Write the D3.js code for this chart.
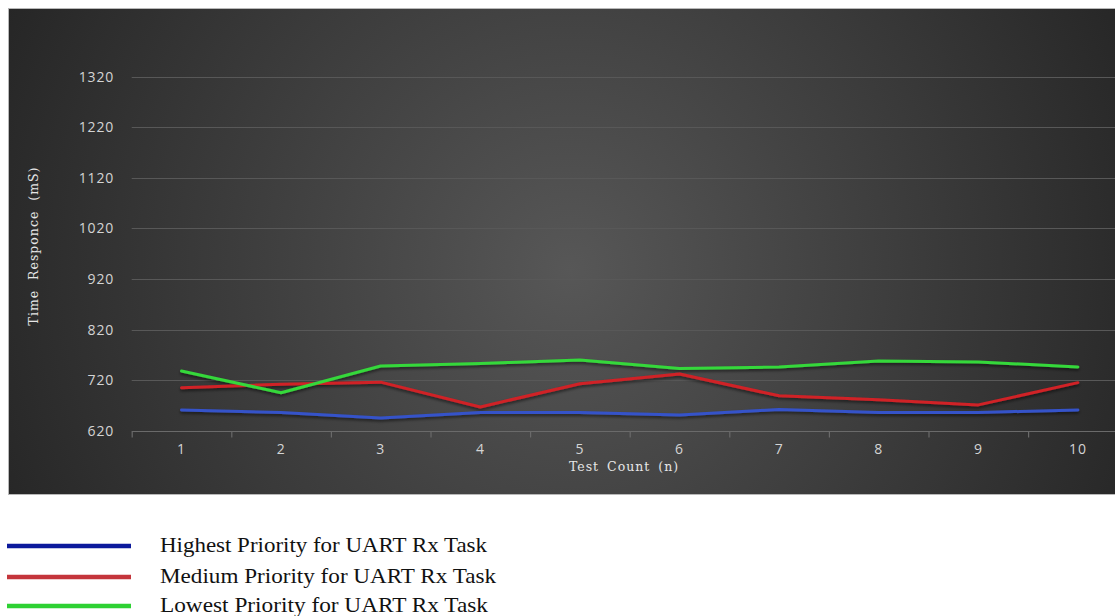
<!DOCTYPE html>
<html>
<head>
<meta charset="utf-8">
<script src="https://cdn.jsdelivr.net/npm/d3@7"></script>
<style>
  html, body { margin: 0; padding: 0; background: #ffffff; }
  svg { display: block; }
</style>
</head>
<body>
<svg id="chart" width="1115" height="616"></svg>
<script>
// Test runs (x categories)
const testCounts = [1, 2, 3, 4, 5, 6, 7, 8, 9, 10];

// Response time in ms for each UART Rx task priority
const highestPriority = [661, 656, 645, 656, 656, 651, 662, 656, 656, 661];
const mediumPriority  = [705, 712, 716, 667, 713, 732, 689, 681, 671, 715];
const lowestPriority  = [738, 695, 748, 753, 760, 743, 746, 758, 756, 746];

const yTicks = [620, 720, 820, 920, 1020, 1120, 1220, 1320];

const seriesNames = [
  "Highest Priority for UART Rx Task",
  "Medium Priority for UART Rx Task",
  "Lowest Priority for UART Rx Task"
];

const series = [
  { name: seriesNames[0], values: highestPriority, line: "#3552c9", key: "#0c1a9c", textLen: 327 },
  { name: seriesNames[1], values: mediumPriority,  line: "#d02127", key: "#c4353b", textLen: 336 },
  { name: seriesNames[2], values: lowestPriority,  line: "#35d83a", key: "#2ed133", textLen: 328 }
];

const svg = d3.select("#chart");

// Dark panel with a soft radial light in the middle
const defs = svg.append("defs");
const grad = defs.append("radialGradient")
  .attr("id", "panelGlow")
  .attr("gradientUnits", "userSpaceOnUse")
  .attr("cx", 570).attr("cy", 270).attr("r", 620);
grad.append("stop").attr("offset", "0%").attr("stop-color", "#575757");
grad.append("stop").attr("offset", "55%").attr("stop-color", "#3c3c3c");
grad.append("stop").attr("offset", "100%").attr("stop-color", "#262626");

const shadow = defs.append("filter").attr("id", "lineShadow")
  .attr("x", "-5%").attr("y", "-50%").attr("width", "110%").attr("height", "200%");
shadow.append("feGaussianBlur").attr("in", "SourceAlpha").attr("stdDeviation", 1.6).attr("result", "b");
shadow.append("feOffset").attr("in", "b").attr("dx", 0).attr("dy", 2).attr("result", "o");
shadow.append("feComponentTransfer").attr("in", "o").attr("result", "s")
  .append("feFuncA").attr("type", "linear").attr("slope", 0.55);
const merge = shadow.append("feMerge");
merge.append("feMergeNode").attr("in", "s");
merge.append("feMergeNode").attr("in", "SourceGraphic");

svg.append("rect")
  .attr("x", 8.5).attr("y", 8.5)
  .attr("width", 1120).attr("height", 486)
  .attr("fill", "url(#panelGlow)")
  .attr("stroke", "#b8b8b8").attr("stroke-width", 1);

// Plot area
const plotLeft = 131.7, bandW = 99.6;
const x = d3.scaleBand()
  .domain(testCounts)
  .range([plotLeft, plotLeft + bandW * testCounts.length])
  .paddingInner(0).paddingOuter(0);

const y = d3.scaleLinear()
  .domain([620, 1320])
  .range([430.7, 76.7]);

const tickFont = "'Open Sans', 'Liberation Sans', sans-serif";

// Horizontal gridlines
svg.append("g")
  .selectAll("line")
  .data(yTicks.slice(1))
  .join("line")
  .attr("x1", plotLeft).attr("x2", 1115)
  .attr("y1", d => Math.round(y(d)) + 0.5)
  .attr("y2", d => Math.round(y(d)) + 0.5)
  .attr("stroke", "#585858").attr("stroke-width", 1.2);

// Y axis labels
const yAxis = d3.axisLeft(y).tickValues(yTicks).tickFormat(d3.format("d")).tickSize(0).tickPadding(0);
const yG = svg.append("g")
  .attr("transform", `translate(${114},0)`)
  .attr("font-size", null)
  .attr("font-family", null)
  .call(yAxis);
yG.select(".domain").remove();
yG.selectAll("text")
  .attr("fill", "#d4d4d4")
  .style("font-family", tickFont)
  .style("font-size", "14px")
  .attr("letter-spacing", "0.8px");

// X axis: baseline with ticks at category boundaries
const baseY = Math.round(y(620)) + 0.5;
const xG = svg.append("g");
xG.append("line")
  .attr("x1", plotLeft).attr("x2", 1115)
  .attr("y1", baseY).attr("y2", baseY)
  .attr("stroke", "#6a6a6a").attr("stroke-width", 1.2);
xG.selectAll("line.tick")
  .data(testCounts)
  .join("line")
  .attr("class", "tick")
  .attr("x1", d => x(d) + 0.5).attr("x2", d => x(d) + 0.5)
  .attr("y1", baseY).attr("y2", baseY + 6)
  .attr("stroke", "#6a6a6a").attr("stroke-width", 1.2);
xG.selectAll("text")
  .data(testCounts)
  .join("text")
  .attr("x", d => x(d) + x.bandwidth() / 2)
  .attr("y", 454)
  .attr("text-anchor", "middle")
  .attr("fill", "#d4d4d4")
  .style("font-family", tickFont)
  .style("font-size", "14px")
  .attr("letter-spacing", "0.8px")
  .text(d => d);

// Axis titles
svg.append("text")
  .attr("transform", `translate(38,246) rotate(-90)`)
  .attr("text-anchor", "middle")
  .attr("fill", "#e6e6e6")
  .attr("font-family", "'DejaVu Serif', serif")
  .attr("font-size", 12.5)
  .attr("letter-spacing", "1px")
  .attr("word-spacing", "5px")
  .text("Time Responce (mS)");

svg.append("text")
  .attr("x", 624).attr("y", 471)
  .attr("text-anchor", "middle")
  .attr("fill", "#e6e6e6")
  .attr("font-family", "'DejaVu Serif', serif")
  .attr("font-size", 12.5)
  .attr("letter-spacing", "1px")
  .attr("word-spacing", "3px")
  .text("Test Count (n)");

// Series lines
const line = d3.line()
  .x((d, i) => x(testCounts[i]) + x.bandwidth() / 2)
  .y(d => y(d));

svg.append("g")
  .attr("filter", "url(#lineShadow)")
  .selectAll("path")
  .data(series)
  .join("path")
  .attr("d", d => line(d.values))
  .attr("fill", "none")
  .attr("stroke", d => d.line)
  .attr("stroke-width", 3)
  .attr("stroke-linejoin", "round")
  .attr("stroke-linecap", "round");

// Legend below the panel
const legendRows = [546, 577, 606];
const legend = svg.append("g");
legend.selectAll("line")
  .data(series)
  .join("line")
  .attr("x1", 7).attr("x2", 131)
  .attr("y1", (d, i) => legendRows[i]).attr("y2", (d, i) => legendRows[i])
  .attr("stroke", d => d.key)
  .attr("stroke-width", 4.5);
legend.selectAll("text")
  .data(series)
  .join("text")
  .attr("x", 160)
  .attr("y", (d, i) => legendRows[i] + 6)
  .attr("fill", "#111111")
  .attr("font-family", "'Liberation Serif', 'Times New Roman', serif")
  .attr("font-size", 21)
  .attr("textLength", d => d.textLen)
  .attr("lengthAdjust", "spacingAndGlyphs")
  .text(d => d.name);
</script>
</body>
</html>
